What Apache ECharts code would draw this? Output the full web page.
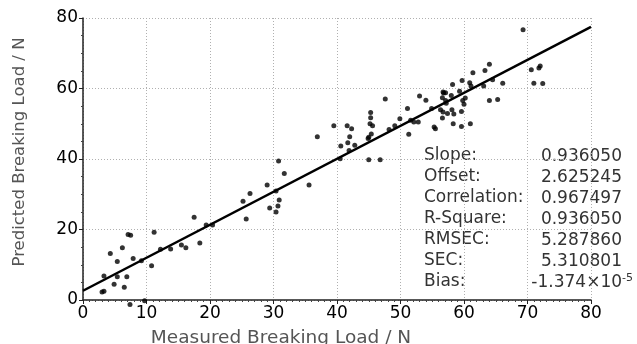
<!DOCTYPE html>
<html>
<head>
<meta charset="utf-8">
<script src="https://cdn.jsdelivr.net/npm/echarts@6/dist/echarts.min.js"></script>
<style>
  html, body { margin: 0; padding: 0; background: #fff; }
  #chart { width: 637px; height: 344px; }
</style>
</head>
<body>
<div id="chart"></div>
<script>
// measured vs predicted breaking load, N
const points = [
  [17.5,23.5],[19.4,21.3],[20.4,21.3],[11.2,19.2],[7.1,18.6],[7.5,18.4],[6.2,14.8],[4.3,13.2],
  [12.2,14.4],[13.8,14.5],[15.5,15.6],[16.2,14.8],[18.4,16.2],[7.9,11.8],[5.4,10.9],[9.2,11.1],
  [10.8,9.7],[3.3,6.8],[5.4,6.6],[6.9,6.6],[4.9,4.5],[6.5,3.6],[3.0,2.3],[3.3,2.5],[7.4,-1.3],[9.7,-0.2],
  [36.9,46.3],[30.8,39.4],[31.7,35.9],[35.6,32.6],[29.0,32.6],[26.3,30.2],[30.4,30.9],[25.2,28.0],
  [30.9,28.4],[30.7,26.7],[29.4,26.1],[30.4,25.0],[25.7,23.0],
  [47.6,57.0],[39.5,49.4],[41.6,49.4],[42.3,48.6],[45.3,53.2],[45.3,51.7],[45.2,50.0],[45.6,49.4],
  [42.0,46.3],[41.7,44.6],[40.6,43.7],[42.8,43.9],[41.9,42.4],[40.5,40.1],[45.4,47.1],[45.0,46.2],
  [44.9,45.8],[45.0,39.8],[46.8,39.8],[48.2,48.4],[49.1,49.4],[49.9,51.4],[51.1,54.3],[53.0,57.9],
  [54.0,56.7],[51.3,47.0],[51.6,51.0],[52.1,50.5],[52.8,50.5],[55.3,49.1],[55.5,48.6],[54.9,54.3],
  [56.8,58.7],[57.1,56.6],[56.7,53.3],[57.4,52.9],[56.6,51.6],
  [69.3,76.7],[70.6,65.3],[71.8,65.8],[72.0,66.4],[71.0,61.5],[72.4,61.4],[64.0,66.9],[63.3,65.1],
  [61.4,64.5],[64.5,62.5],[66.1,61.5],[63.1,60.7],[59.7,62.3],[60.9,61.6],[61.1,60.7],[58.2,61.1],
  [59.3,59.2],[58.0,58.0],[56.7,59.0],[57.1,58.8],[56.6,57.4],[57.2,55.8],[60.2,57.3],[59.8,56.6],
  [60.0,55.5],[64.0,56.6],[65.3,56.9],[58.4,52.8],[59.6,53.5],[58.3,50.0],[59.6,49.2],[61.0,50.0],
  [58.1,54.0],[56.3,54.0]
];

const slope = 0.936050;
const offset = 2.625245;
const fitRange = [0, 80];

const statNames = ['Slope:', 'Offset:', 'Correlation:', 'R-Square:', 'RMSEC:', 'SEC:', 'Bias:'];
const statValues = ['0.936050', '2.625245', '0.967497', '0.936050', '5.287860', '5.310801', '-1.374×10'];
const biasExp = '-5';

const xTitle = 'Measured Breaking Load / N';
const yTitle = 'Predicted Breaking Load / N';

const FONT = 'DejaVu Sans';

const fitLine = fitRange.map(x => [x, slope * x + offset]);

// stats block at bottom right
const statGraphics = [];
statNames.forEach((name, i) => {
  const y = 157 + i * 21;
  statGraphics.push({
    type: 'text', left: 424, top: y - 10,
    style: {text: name, font: '17px "' + FONT + '"', fill: '#333'}
  });
  const last = i === statNames.length - 1;
  statGraphics.push({
    type: 'text', x: last ? 633 : 622, y: y,
    style: {
      text: last ? '{a|' + statValues[i] + '}{s|' + biasExp + '}' : statValues[i],
      font: '17px "' + FONT + '"', fill: '#333',
      align: 'right', verticalAlign: 'middle',
      rich: {
        a: {fontFamily: FONT, fontSize: 17, fill: '#333'},
        s: {fontFamily: FONT, fontSize: 11, fill: '#333', verticalAlign: 'top', padding: [0, 0, 10, 0]}
      }
    }
  });
});

const chart = echarts.init(document.getElementById('chart'), null, {renderer: 'canvas'});

const option = {
  animation: false,
  backgroundColor: '#fff',
  grid: {left: 83, right: 46, top: 18, bottom: 44},
  xAxis: {
    type: 'value', min: 0, max: 80, interval: 10,
    axisLine: {show: true, onZero: false, lineStyle: {color: '#222', width: 1.5}},
    axisTick: {show: true, length: 4, lineStyle: {color: '#222'}},
    minorTick: {show: true, splitNumber: 10, length: 2, lineStyle: {color: '#444'}},
    axisLabel: {color: '#000', fontFamily: FONT, fontSize: 17, margin: 5},
    splitLine: {show: true, lineStyle: {color: '#b0b0b0', type: [1, 2], width: 1}}
  },
  yAxis: {
    type: 'value', min: 0, max: 80, interval: 20,
    axisLine: {show: true, onZero: false, lineStyle: {color: '#222', width: 1.5}},
    axisTick: {show: true, length: 4, lineStyle: {color: '#222'}},
    minorTick: {show: true, splitNumber: 4, length: 2, lineStyle: {color: '#444'}},
    axisLabel: {color: '#000', fontFamily: FONT, fontSize: 17, margin: 5},
    splitLine: {show: true, lineStyle: {color: '#b0b0b0', type: [1, 2], width: 1}}
  },
  graphic: [
    {
      type: 'text', x: 281, y: 338,
      style: {text: xTitle, font: '18.5px "' + FONT + '"', fill: '#555', align: 'center', verticalAlign: 'middle'}
    },
    {
      type: 'text', x: 20, y: 152, rotation: Math.PI / 2,
      style: {text: yTitle, font: '16.5px "' + FONT + '"', fill: '#555', align: 'center', verticalAlign: 'middle'}
    }
  ].concat(statGraphics),
  series: [
    {
      type: 'scatter',
      data: points,
      symbolSize: 5,
      itemStyle: {color: '#000'},
      clip: false
    },
    {
      type: 'line',
      data: fitLine,
      symbol: 'none',
      lineStyle: {color: '#000', width: 2.5},
      z: 3
    }
  ]
};

chart.setOption(option);
</script>
</body>
</html>
